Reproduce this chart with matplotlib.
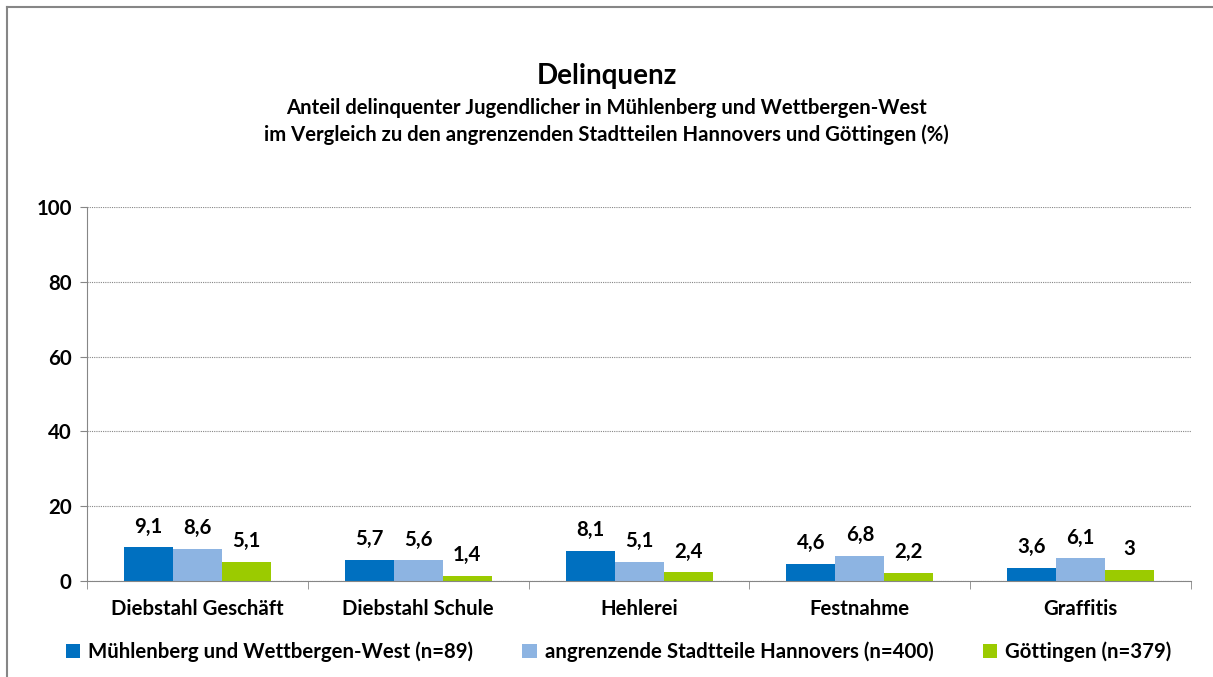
#!/usr/bin/env python3
import numpy as np
import matplotlib.pyplot as plt
from matplotlib.lines import Line2D

plt.rcParams['font.family'] = ['Lato', 'DejaVu Sans']

categories = ['Diebstahl Geschäft', 'Diebstahl Schule', 'Hehlerei',
              'Festnahme', 'Graffitis']
series_names = ['Mühlenberg und Wettbergen-West (n=89)',
                'angrenzende Stadtteile Hannovers (n=400)',
                'Göttingen (n=379)']
muehlenberg = [9.1, 5.7, 8.1, 4.6, 3.6]
hannover = [8.6, 5.6, 5.1, 6.8, 6.1]
goettingen = [5.1, 1.4, 2.4, 2.2, 3.0]
y_ticks = [0, 20, 40, 60, 80, 100]

COLORS = ['#0070C0', '#8DB4E2', '#9BCB00']
BAR_W = 0.222
FS = 14.7


def fmt(v):
    s = '{:g}'.format(v)
    return s.replace('.', ',')


def main():
    fig = plt.figure(figsize=(12.13, 6.77), dpi=100)
    ax = fig.add_axes([0.0717, 0.1418, 0.9103, 0.5524])

    x = np.arange(len(categories))
    series = [muehlenberg, hannover, goettingen]
    for i, vals in enumerate(series):
        pos = x + (i - 1) * BAR_W
        bars = ax.bar(pos, vals, BAR_W, color=COLORS[i], label=series_names[i])
        for b, v in zip(bars, vals):
            ax.text(b.get_x() + b.get_width() / 2, v + 2.8, fmt(v),
                    ha='center', va='bottom', fontsize=FS, fontweight='bold')

    ax.set_xlim(-0.5, len(categories) - 0.5)
    ax.set_ylim(0, 100)
    ax.set_yticks(y_ticks)
    ax.set_yticklabels([str(t) for t in y_ticks], fontsize=FS, fontweight='bold')
    ax.set_xticks(x)
    ax.set_xticklabels(categories, fontsize=FS, fontweight='bold')
    ax.tick_params(axis='x', length=0, pad=13)
    ax.tick_params(axis='y', length=5, color='#868686', pad=6)
    # tick marks between categories
    ax.set_xticks(np.arange(-0.5, len(categories)), minor=True)
    ax.tick_params(axis='x', which='minor', length=6, color='#868686')

    ax.grid(axis='y', linestyle=(0, (1, 1)), color='#868686', linewidth=0.8)
    ax.set_axisbelow(True)
    for side in ['top', 'right']:
        ax.spines[side].set_visible(False)
    for side in ['left', 'bottom']:
        ax.spines[side].set_color('#868686')

    fig.text(0.5, 0.888, 'Delinquenz', ha='center', va='center',
             fontsize=20, fontweight='bold')
    fig.text(0.5, 0.8405, 'Anteil delinquenter Jugendlicher in Mühlenberg und Wettbergen-West',
             ha='center', va='center', fontsize=14.6, fontweight='bold')
    fig.text(0.5, 0.8006, 'im Vergleich zu den angrenzenden Stadtteilen Hannovers und Göttingen (%)',
             ha='center', va='center', fontsize=14.6, fontweight='bold')

    fig.legend(loc='center', bbox_to_anchor=(0.51, 0.037), ncol=3, frameon=False,
               handlelength=0.7, handleheight=0.7, handletextpad=0.4,
               columnspacing=2.4, prop={'weight': 'bold', 'size': FS})

    # chart area border (left and top visible)
    fig.add_artist(Line2D([0.0058, 0.0058], [0, 0.9897], color='#868686', lw=1.5,
                          transform=fig.transFigure))
    fig.add_artist(Line2D([0.0058, 1], [0.9897, 0.9897], color='#868686', lw=1.5,
                          transform=fig.transFigure))

    plt.savefig('out.png', dpi=100)


if __name__ == '__main__':
    main()
